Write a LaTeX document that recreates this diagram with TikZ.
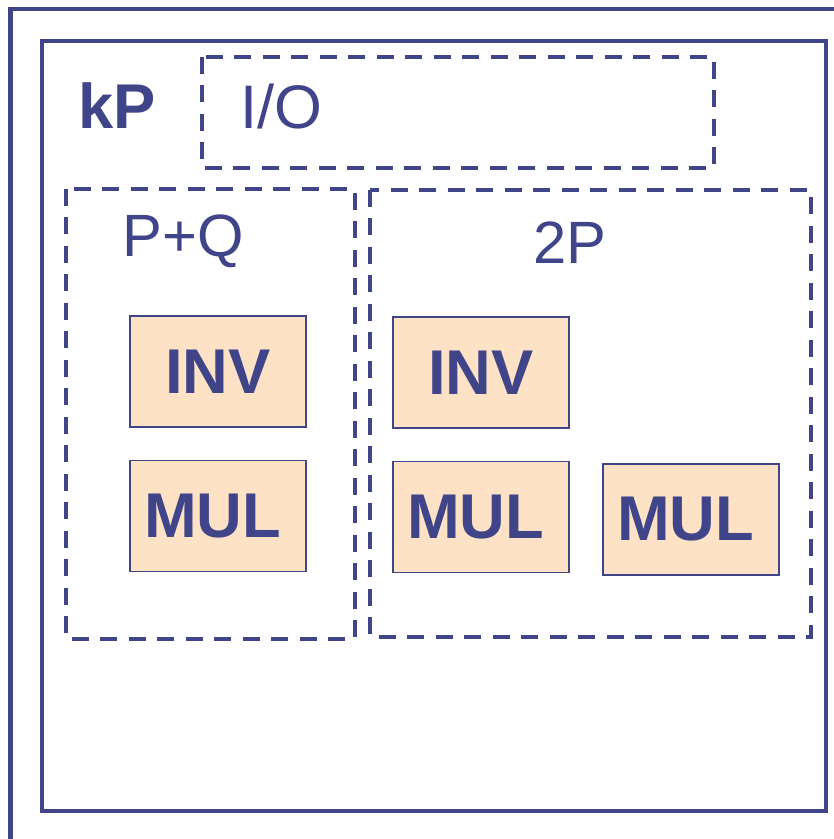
\documentclass[tikz,border=0pt]{standalone}
\usepackage{fontspec}
\setmainfont{Liberation Sans}
\usepackage{tikz}

\definecolor{kpblue}{RGB}{64,69,138}
\definecolor{unitfill}{RGB}{253,226,198}

\tikzset{
  kpframe/.style={draw=kpblue,line width=2.3pt},
  pathbox/.style={draw=kpblue,line width=2pt,dash pattern=on 0.34cm off 0.23cm},
  unitbox/.style={draw=kpblue,fill=unitfill,line width=1.1pt,minimum width=3.52cm,
    minimum height=2.22cm,text=kpblue,font=\fontsize{36}{40}\selectfont\bfseries},
  mulbox/.style={unitbox,text width=2.96cm,inner xsep=0.28cm,align=left},
  boxlabel/.style={text=kpblue,anchor=base,inner sep=0pt,font=\fontsize{34}{40}\selectfont}
}

\begin{document}
\begin{tikzpicture}[x=0.02cm,y=-0.02cm]
\clip (0,0) rectangle (834,839);
\draw[kpframe] (10.5,900) -- (10.5,9) -- (900,9);
\draw[kpframe] (42,41) rectangle (826,811);
\draw[pathbox] (202,57) rectangle (714,168);
\draw[pathbox] (66,189) rectangle (355,639);
\draw[pathbox] (370,190) rectangle (811,637);
\node[boxlabel,font=\fontsize{36}{40}\selectfont\bfseries] (kp) at (117.5,128) {kP};
\node[boxlabel,font=\fontsize{35}{40}\selectfont] (io) at (281,128) {I/O};
\node[boxlabel] (pq) at (183,256) {P+Q};
\node[boxlabel] (dbl) at (570,263) {2P};
\node[unitbox] (inv1) at (218,371.5) {INV};
\node[mulbox] (mul1) at (218,516) {MUL};
\node[unitbox] (inv2) at (481,372.5) {INV};
\node[mulbox] (mul2) at (481,517) {MUL};
\node[mulbox] (mul3) at (691,519.5) {MUL};
\end{tikzpicture}
\end{document}
